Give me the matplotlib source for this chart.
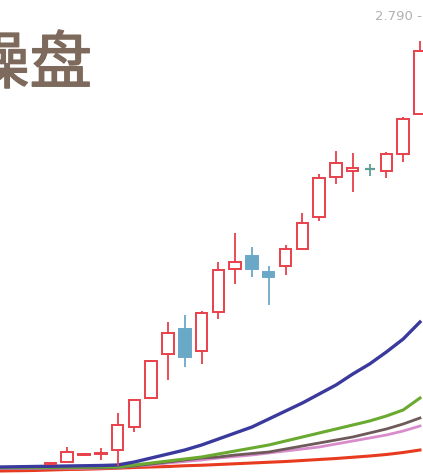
import matplotlib
matplotlib.use("Agg")
import matplotlib.pyplot as plt
import matplotlib.patheffects as pe
import numpy as np

# ---- data (prices) ----
candle_idx = [3, 4, 5, 6, 7, 8, 9, 10, 11, 12, 13, 14, 15, 16, 17, 18, 19, 20, 21, 22, 23, 24, 25]
opens  = [1.004, 1.010, 1.038, 1.044, 1.058, 1.150, 1.266, 1.442, 1.542, 1.454, 1.610, 1.782, 1.834, 1.770, 1.794, 1.862, 1.990, 2.150, 2.174, 2.182, 2.174, 2.242, 2.402]
highs  = [1.010, 1.070, 1.046, 1.066, 1.206, 1.262, 1.418, 1.570, 1.598, 1.614, 1.810, 1.926, 1.870, 1.794, 1.878, 2.006, 2.162, 2.254, 2.246, 2.202, 2.250, 2.390, 2.694]
lows   = [1.002, 1.006, 1.036, 1.018, 0.994, 1.130, 1.266, 1.338, 1.390, 1.402, 1.582, 1.722, 1.750, 1.638, 1.758, 1.862, 1.974, 2.122, 2.090, 2.154, 2.146, 2.210, 2.402]
closes = [1.008, 1.050, 1.044, 1.046, 1.158, 1.258, 1.414, 1.526, 1.430, 1.606, 1.778, 1.810, 1.782, 1.750, 1.862, 1.966, 2.146, 2.206, 2.186, 2.182, 2.242, 2.382, 2.654]

line_idx = list(range(26))
line_blue  = [0.990, 0.991, 0.992, 0.993, 0.994, 0.995, 0.996, 0.998, 1.010, 1.026, 1.042, 1.058, 1.078, 1.102, 1.126, 1.150, 1.182, 1.214, 1.246, 1.282, 1.318, 1.362, 1.402, 1.450, 1.502, 1.570]
line_green = [0.988, 0.988, 0.988, 0.989, 0.989, 0.989, 0.990, 0.990, 0.998, 1.006, 1.014, 1.022, 1.030, 1.042, 1.054, 1.066, 1.078, 1.094, 1.110, 1.126, 1.142, 1.158, 1.174, 1.194, 1.218, 1.266]
line_brown = [0.986, 0.986, 0.986, 0.986, 0.987, 0.987, 0.987, 0.988, 0.994, 1.002, 1.010, 1.018, 1.026, 1.030, 1.038, 1.044, 1.050, 1.062, 1.074, 1.086, 1.098, 1.110, 1.126, 1.142, 1.162, 1.186]
line_pink  = [0.984, 0.984, 0.984, 0.985, 0.985, 0.985, 0.986, 0.987, 0.994, 0.998, 1.006, 1.012, 1.018, 1.026, 1.032, 1.038, 1.046, 1.054, 1.062, 1.070, 1.082, 1.094, 1.106, 1.118, 1.134, 1.154]
line_red   = [0.974, 0.975, 0.976, 0.978, 0.980, 0.981, 0.983, 0.985, 0.988, 0.990, 0.992, 0.995, 0.997, 1.000, 1.003, 1.006, 1.009, 1.012, 1.016, 1.020, 1.024, 1.029, 1.034, 1.040, 1.048, 1.058]

title_text = "操盘"
price_label = "2.790 -"
price_label_value = 2.790

# ---- figure ----
W, H = 423, 474
fig = plt.figure(figsize=(W / 100, H / 100), dpi=100)
fig.patch.set_facecolor("white")
ax = fig.add_axes([0, 0, 1, 1])
ax.set_facecolor("white")
ax.set_xlim(0.0, 25.18)
ax.set_ylim(0.962, 2.858)
ax.axis("off")

UP = "#e8404a"
DOWN = "#6aa8c8"
FLAT = "#5e9e96"

for i, o, h, l, c in zip(candle_idx, opens, highs, lows, closes):
    if c > o:
        col, face = UP, "white"
    elif c < o:
        col, face = DOWN, DOWN
    else:
        col, face = FLAT, FLAT
    ax.vlines(i, l, h, color=col, lw=1.3, zorder=3)
    bottom = min(o, c)
    height = max(abs(c - o), 0.003)
    if c == o:
        ax.hlines(o, i - 0.3, i + 0.3, color=col, lw=1.6, zorder=4)
    else:
        ax.bar(i, height, bottom=bottom, width=0.68, facecolor=face,
               edgecolor=col, linewidth=1.4, zorder=4)

ax.plot(line_idx, line_red, color="#e83a1e", lw=2.2, zorder=2)
ax.plot(line_idx, line_pink, color="#d98ccc", lw=2.0, zorder=2)
ax.plot(line_idx, line_brown, color="#6e5a58", lw=2.0, zorder=2)
ax.plot(line_idx, line_green, color="#6aaa30", lw=2.2, zorder=2)
ax.plot(line_idx, line_blue, color="#3a3a9e", lw=2.4, zorder=2)

ax.text(25.1, price_label_value, price_label, ha="right", va="center",
        fontsize=9.5, color="#b0b0b0", family=["DejaVu Sans"], zorder=5)

fig.text(-33 / W, 1 - 65 / H, title_text, ha="left", va="center",
         fontsize=45, color="#7d6a5c", family=["Noto Sans CJK SC", "DejaVu Sans"],
         fontweight="medium",
         path_effects=[pe.withStroke(linewidth=1.0, foreground="#7d6a5c")])

fig.savefig("out.png", dpi=100, facecolor="white")
